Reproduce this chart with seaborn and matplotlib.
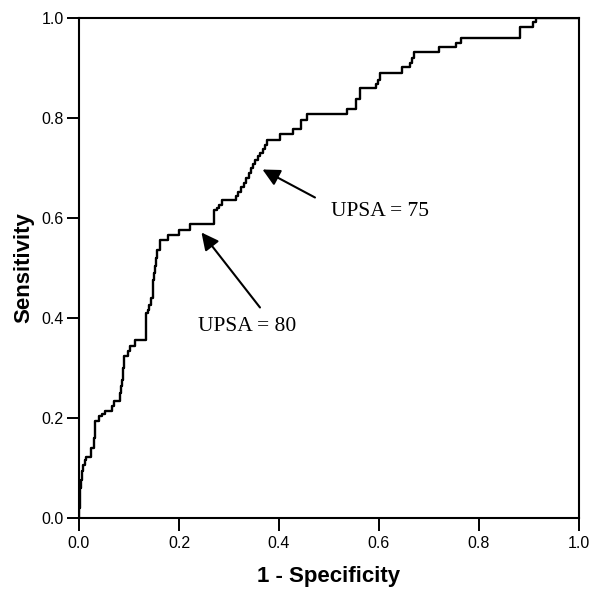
import pandas as pd
import matplotlib
matplotlib.use("Agg")
import matplotlib.pyplot as plt
import seaborn as sns

# ROC curve: at each fpr value the sensitivity steps up to tpr
fpr = [0.000, 0.000, 0.002, 0.003, 0.004, 0.006, 0.009, 0.012, 0.015, 0.024,
       0.030, 0.032, 0.040, 0.046, 0.052, 0.067, 0.071, 0.083, 0.084, 0.087,
       0.089, 0.091, 0.098, 0.103, 0.112, 0.134, 0.138, 0.141, 0.145, 0.148,
       0.149, 0.151, 0.152, 0.155, 0.157, 0.163, 0.178, 0.200, 0.222, 0.270,
       0.276, 0.280, 0.287, 0.314, 0.319, 0.325, 0.330, 0.335, 0.340, 0.344,
       0.348, 0.353, 0.358, 0.363, 0.368, 0.372, 0.376, 0.402, 0.429, 0.445,
       0.457, 0.537, 0.555, 0.562, 0.594, 0.599, 0.603, 0.647, 0.662, 0.667,
       0.670, 0.721, 0.755, 0.765, 0.883, 0.907, 0.914, 1.000]
tpr = [0.000, 0.020, 0.040, 0.060, 0.075, 0.093, 0.105, 0.116, 0.121, 0.139,
       0.160, 0.193, 0.203, 0.208, 0.213, 0.223, 0.233, 0.250, 0.263, 0.276,
       0.300, 0.323, 0.333, 0.343, 0.355, 0.410, 0.416, 0.426, 0.439, 0.460,
       0.476, 0.490, 0.503, 0.520, 0.536, 0.556, 0.566, 0.576, 0.588, 0.615,
       0.620, 0.626, 0.636, 0.643, 0.651, 0.661, 0.669, 0.679, 0.689, 0.699,
       0.708, 0.715, 0.724, 0.729, 0.737, 0.746, 0.756, 0.768, 0.777, 0.796,
       0.808, 0.817, 0.837, 0.859, 0.868, 0.876, 0.889, 0.901, 0.909, 0.919,
       0.931, 0.941, 0.950, 0.959, 0.981, 0.991, 1.000, 1.000]

ticks = [0.0, 0.2, 0.4, 0.6, 0.8, 1.0]
tick_labels = ["0.0", "0.2", "0.4", "0.6", "0.8", "1.0"]

# annotations: label, arrow tip (on curve), arrow tail
notes = ["UPSA = 80", "UPSA = 75"]
note_tip = [(0.245, 0.571), (0.367, 0.697)]
note_tail = [(0.362, 0.421), (0.472, 0.641)]
note_text = [(0.238, 0.383), (0.505, 0.612)]

sns.set_style("ticks")
plt.rcParams["font.family"] = ["Liberation Sans", "DejaVu Sans"]

roc = pd.DataFrame({"fpr": fpr, "tpr": tpr})

fig = plt.figure(figsize=(6.01, 5.96), dpi=100)
ax = fig.add_axes([0.1314, 0.1309, 0.832, 0.8389])

sns.lineplot(data=roc, x="fpr", y="tpr", ax=ax, estimator=None, sort=False,
             drawstyle="steps-post", color="black", linewidth=1.7)

for lab, tip, tail, pos in zip(notes, note_tip, note_tail, note_text):
    ax.annotate("", xy=tip, xytext=tail,
                arrowprops=dict(arrowstyle="-|>", color="black", lw=1.5,
                                mutation_scale=26, shrinkA=0, shrinkB=0))
    ax.text(pos[0], pos[1], lab, family="Liberation Serif", fontsize=15.5,
            va="center", ha="left", color="black")

ax.set_xlim(0, 1)
ax.set_ylim(0, 1)
ax.set_xticks(ticks)
ax.set_xticklabels(tick_labels)
ax.set_yticks(ticks)
ax.set_yticklabels(tick_labels)
ax.tick_params(direction="out", length=9, width=1.4, labelsize=11.5,
               color="black", labelcolor="black")
ax.tick_params(axis="x", pad=4)
ax.tick_params(axis="y", pad=2)
for s in ax.spines.values():
    s.set_linewidth(1.5)
    s.set_color("black")

ax.set_xlabel("1 - Specificity", fontsize=16, fontweight="bold", labelpad=11,
              color="black")
ax.set_ylabel("Sensitivity", fontsize=16, fontweight="bold", labelpad=5,
              color="black")

fig.savefig("out.png", dpi=100, facecolor="white")
